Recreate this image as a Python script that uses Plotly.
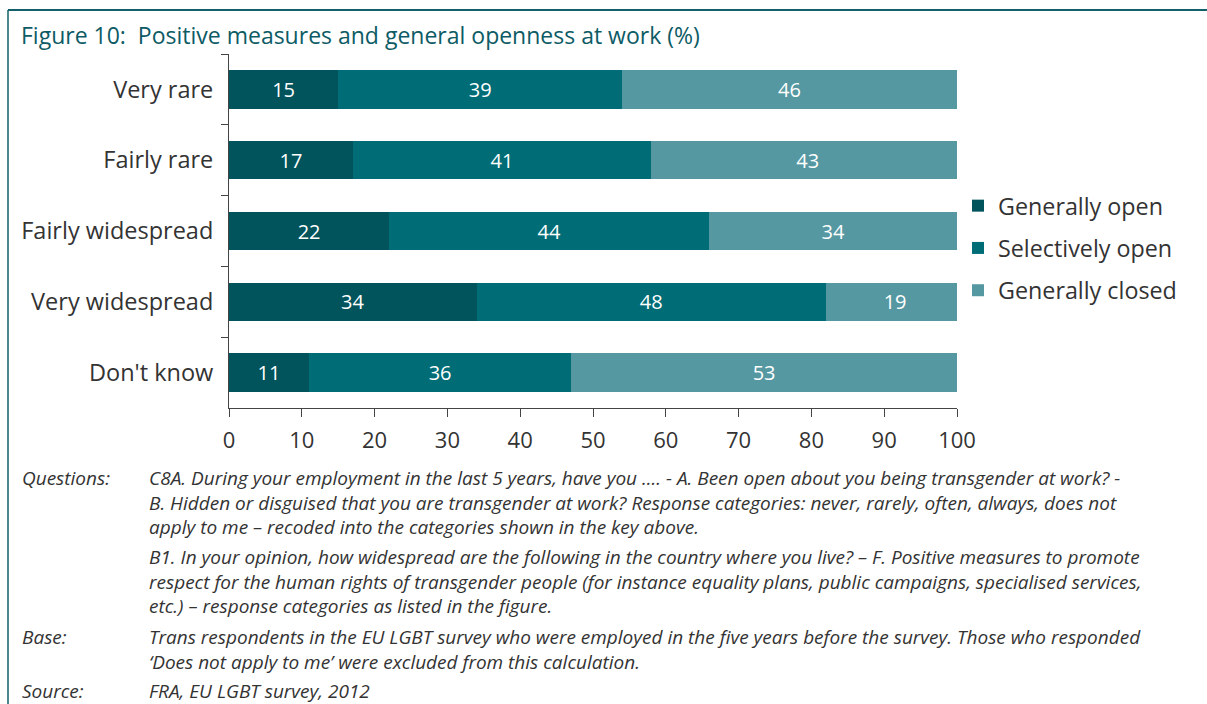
import plotly.graph_objects as go

# data
categories = ["Very rare", "Fairly rare", "Fairly widespread", "Very widespread", "Don't know"]
generally_open = [15, 17, 22, 34, 11]
selectively_open = [39, 41, 44, 48, 36]
generally_closed = [46, 43, 34, 19, 53]
x_ticks = [0, 10, 20, 30, 40, 50, 60, 70, 80, 90, 100]

series = [
    ("Generally open", generally_open, "#01535c"),
    ("Selectively open", selectively_open, "#006c76"),
    ("Generally closed", generally_closed, "#5598a2"),
]

W, H = 1207, 704
L, R, T, B = 229, 957, 54, 408  # plot area in pixels


def px(x):
    return (x - L) / (R - L)


def py(y):
    return (B - y) / (B - T)


fig = go.Figure()
for i, (name, vals, color) in enumerate(series):
    fig.add_trace(go.Bar(
        y=categories, x=vals, name=name, orientation="h",
        marker=dict(color=color, line=dict(width=0)),
        text=[str(v) for v in vals], textposition="inside",
        insidetextanchor="middle",
        textfont=dict(color="white", size=20, family="Open Sans"),
        legendgroup=str(i),
    ))

fig.update_layout(
    width=W, height=H,
    barmode="stack", bargap=0.46,
    plot_bgcolor="white", paper_bgcolor="white",
    margin=dict(l=L, r=W - R, t=T, b=H - B, pad=0),
    font=dict(family="Open Sans", color="#333333"),
    showlegend=True,
    legend=dict(
        x=px(958), y=py(184), xanchor="left", yanchor="top",
        traceorder="grouped", tracegroupgap=9,
        font=dict(size=23.3, color="#333333"),
        bgcolor="rgba(0,0,0,0)",
    ),
    xaxis=dict(
        range=[0, 100], tickvals=x_ticks, showgrid=False, zeroline=False,
        showline=True, linecolor="#444444", linewidth=1,
        ticks="outside", ticklen=8, tickcolor="#444444",
        tickfont=dict(size=22, color="#333333"), ticklabelstandoff=5,
        fixedrange=True,
    ),
    yaxis=dict(
        categoryorder="array", categoryarray=categories, autorange="reversed",
        showgrid=False, zeroline=False, showline=True,
        linecolor="#444444", linewidth=1,
        ticks="outside", ticklen=7, tickcolor="#444444", tickson="boundaries",
        tickfont=dict(size=23.5, color="#333333"), ticklabelstandoff=10,
    ),
)

# frame lines
fig.add_shape(type="line", xref="paper", yref="paper",
              x0=px(8), x1=px(W), y0=py(10), y1=py(10),
              line=dict(color="#13606a", width=2))
fig.add_shape(type="line", xref="paper", yref="paper",
              x0=px(8), x1=px(8), y0=py(10), y1=py(H + 5),
              line=dict(color="#13606a", width=1.5))

# title
fig.add_annotation(text="Figure 10:  Positive measures and general openness at work (%)",
                   xref="paper", yref="paper", x=px(19), y=py(35),
                   xanchor="left", yanchor="middle", showarrow=False,
                   font=dict(size=23, color="#0d5b65", family="Open Sans"))

# footnotes: (x, y of first line, lines)
NOTE_SIZE = 19
notes = [
    (20, 478, ["Questions:"]),
    (147, 478, [
        "C8A. During your employment in the last 5 years, have you .... - A. Been open about you being transgender at work? -",
        "B. Hidden or disguised that you are transgender at work? Response categories: never, rarely, often, always, does not",
        "apply to me \u2013 recoded into the categories shown in the key above.",
    ]),
    (147, 557, [
        "B1. In your opinion, how widespread are the following in the country where you live? \u2013 F. Positive measures to promote",
        "respect for the human rights of transgender people (for instance equality plans, public campaigns, specialised services,",
        "etc.) \u2013 response categories as listed in the figure.",
    ]),
    (20, 637, ["Base:"]),
    (147, 637, [
        "Trans respondents in the EU LGBT survey who were employed in the five years before the survey. Those who responded",
        "\u2018Does not apply to me\u2019 were excluded from this calculation.",
    ]),
    (20, 691, ["Source:"]),
    (147, 691, ["FRA, EU LGBT survey, 2012"]),
]
line_h = 1.3 * NOTE_SIZE
for x, y, lines in notes:
    yc = y + (len(lines) - 1) * line_h / 2
    fig.add_annotation(text="<br>".join("<i>" + t + "</i>" for t in lines),
                       xref="paper", yref="paper", align="left",
                       x=px(x), y=py(yc), xanchor="left", yanchor="middle",
                       showarrow=False,
                       font=dict(size=NOTE_SIZE, color="#333333", family="Open Sans"))

# page body has a default 8px margin; drop it so the figure sits at the corner
fig.write_html("out.html", config={"displayModeBar": False},
               post_script="document.body.style.margin='0';")
